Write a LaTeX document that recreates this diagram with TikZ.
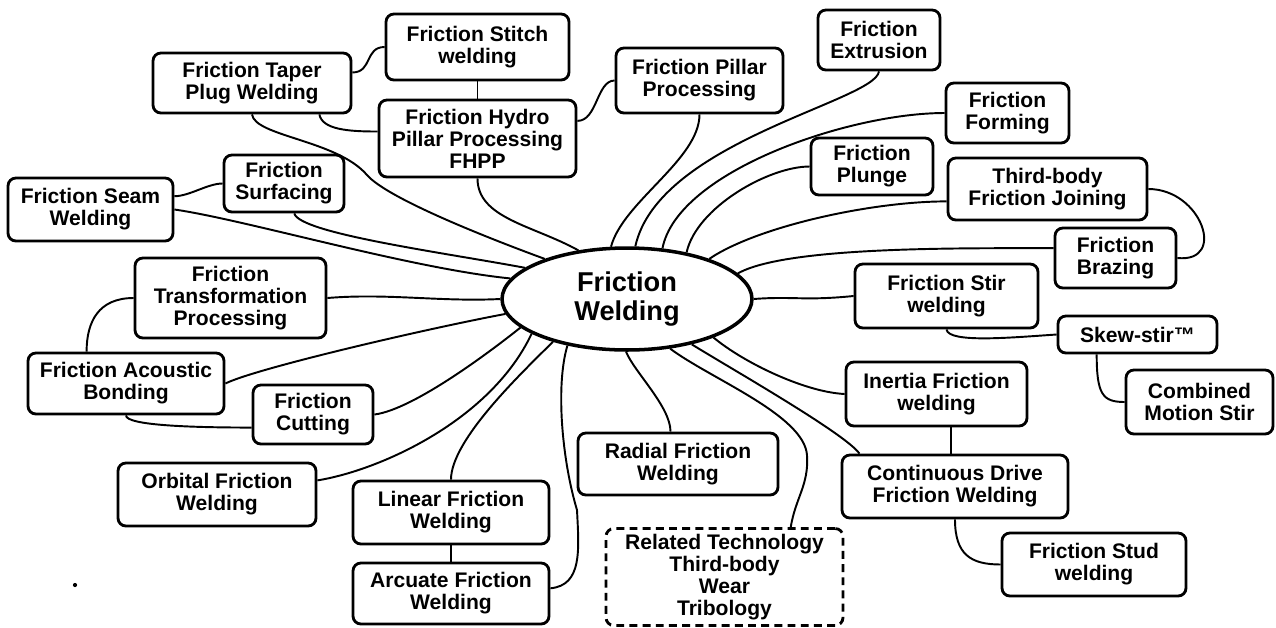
\documentclass[tikz,border=0pt]{standalone}
\usepackage{fontspec}
\setmainfont{Liberation Sans}
\usetikzlibrary{shapes.geometric}
\newcommand{\boxfont}{\fontsize{12}{12.5}\selectfont\bfseries}
\newcommand{\hubfont}{\fontsize{15.5}{17}\selectfont\bfseries}
\tikzset{
  box/.style={draw, rounded corners=4.5pt, line width=1.6pt, align=center, inner sep=1pt, font=\boxfont},
  sz/.style 2 args={minimum width=#1*0.02cm, minimum height=#2*0.02cm},
  link/.style={line width=1.1pt},
}
\begin{document}
\begin{tikzpicture}[x=0.02cm, y=-0.02cm]
		\useasboundingbox (0,0) rectangle (1276,627);
		% hub
		\node[draw, ellipse, line width=2pt, font=\hubfont, align=center, inner sep=0pt, minimum width=5.0cm, minimum height=2.04cm] (fw) at (627,299) {Friction\\Welding};

		% boxes
		\node[box, sz={198}{60}] (taper) at (252,83) {Friction Taper\\Plug Welding};
		\node[box, sz={183}{66}] (stitch) at (477.5,47) {Friction Stitch\\welding};
		\node[box, sz={197}{77}] (hydro) at (477.5,138.5) {Friction Hydro\\Pillar Processing\\FHPP};
		\node[box, sz={167}{65}] (pillar) at (699.5,80.5) {Friction Pillar\\Processing};
		\node[box, sz={122}{60}] (extrusion) at (879,40) {Friction\\Extrusion};
		\node[box, sz={123}{60}] (forming) at (1007.5,113) {Friction\\Forming};
		\node[box, sz={122}{57}] (plunge) at (872,166.5) {Friction\\Plunge};
		\node[box, sz={199}{62}] (thirdbody) at (1047.5,189) {Third-body\\Friction Joining};
		\node[box, sz={121}{60}] (brazing) at (1115.5,258) {Friction\\Brazing};
		\node[box, sz={183}{64}] (stir) at (946.5,296) {Friction Stir\\welding};
		\node[box, sz={159}{37}] (skew) at (1137.5,334.5) {Skew-stir™};
		\node[box, sz={147}{64}] (combined) at (1199.5,402) {Combined\\Motion Stir};
		\node[box, sz={181}{64}] (inertia) at (936.5,394) {Inertia Friction\\welding};
		\node[box, sz={226}{63}] (continuous) at (955,486.5) {Continuous Drive\\Friction Welding};
		\node[box, sz={184}{63}] (stud) at (1094,564.5) {Friction Stud\\welding};
		\node[box, dash pattern=on 4.5pt off 3pt, sz={237}{97}] (related) at (724.5,577) {Related Technology\\Third-body\\Wear\\Tribology};
		\node[box, sz={200}{62}] (radial) at (678,464) {Radial Friction\\Welding};
		\node[box, sz={196}{63}] (linear) at (451,512.5) {Linear Friction\\Welding};
		\node[box, sz={196}{61}] (arcuate) at (451,593.5) {Arcuate Friction\\Welding};
		\node[box, sz={198}{63}] (orbital) at (217,494.5) {Orbital Friction\\Welding};
		\node[box, sz={120}{59}] (cutting) at (313,414.5) {Friction\\Cutting};
		\node[box, sz={196}{61}] (acoustic) at (126,383.5) {Friction Acoustic\\Bonding};
		\node[box, sz={191}{80}] (transform) at (230.5,298) {Friction\\Transformation\\Processing};
		\node[box, sz={165}{63}] (seam) at (90.5,209.5) {Friction Seam\\Welding};
		\node[box, sz={120}{57}] (surfacing) at (284,183.5) {Friction\\Surfacing};

		% top left group
		\draw[link] (taper.6) .. controls +(20,0) and +(-20,0) .. (stitch.west);
		\draw[link] (stitch.south) -- (hydro.north);
		\draw[link] (taper.-25) .. controls +(3,15) and +(-30,0) .. (hydro.176);
		\draw[link] (taper.south) .. controls +(3,22) and +(-30,-35) .. (367,175) .. controls +(20,23) and +(-60,-22) .. (fw.154);
		\draw[link] (hydro.10) .. controls +(20,0) and +(-18,0) .. (pillar.west);
		\draw[link] (hydro.south) .. controls +(0,40) and +(-45,-25) .. (fw.135);
		\draw[link] (pillar.south) .. controls +(0,45) and +(12,-45) .. (fw.107);

		% top right group
		\draw[link] (extrusion.south) .. controls +(-4,30) and +(23,-105) .. (fw.81);
		\draw[link] (forming.west) .. controls +(-96,0) and +(15,-77) .. (fw.55);
		\draw[link] (plunge.west) .. controls +(-41,0) and +(10,-45) .. (fw.38);
		\draw[link] (thirdbody.187) .. controls +(-76,0) and +(47,-32) .. (fw.26);
		\draw[link] (thirdbody.east) .. controls +(53,0) and +(50,5) .. (brazing.east);
		\draw[link] (brazing.171) .. controls +(-96,0) and +(48,-27) .. (fw.13);
		\draw[link] (stir.west) .. controls +(-50,5) and +(40,-3) .. (fw.0);
		\draw[link] (stir.south) .. controls +(2,14) and +(-45,3) .. (skew.west);
		\draw[link] (skew.206) .. controls +(0,40) and +(-22,0) .. (combined.west);

		% bottom right group
		\draw[link] (inertia.west) .. controls +(-40,-2) and +(30,25) .. (fw.-24);
		\draw[link] (inertia.-67) -- (inertia.-67 |- continuous.north);
		\draw[link] (continuous.161) .. controls +(-14,-20) and +(37,23) .. (fw.-35);
		\draw[link] (continuous.south) .. controls +(0,35) and +(-30,0) .. (stud.west);
		\draw[link] (related.37) .. controls +(5,-30) and +(2,30) .. (807,455) .. controls +(-3,-40) and +(40,30) .. (fw.-49);
		\draw[link] (radial.103) .. controls +(0,-25) and +(8,20) .. (fw.-91);

		% bottom left group
		\draw[link] (arcuate.3) .. controls +(32,-3) and +(2,40) .. (577,510) .. controls +(-15,-50) and +(-12,40) .. (fw.218);
		\draw[link] (linear.north) .. controls +(0,-40) and +(-30,30) .. (fw.210);
		\draw[link] (linear.south) -- (arcuate.north);
		\draw[link] (orbital.8) .. controls +(62,-10) and +(-41,87) .. (fw.200);
		\draw[link] (cutting.east) .. controls +(40,-5) and +(-25,20) .. (fw.195);
		\draw[link] (acoustic.east) .. controls +(30,-15) and +(-80,15) .. (fw.187);
		\draw[link] (acoustic.south) .. controls +(0,10) and +(-60,0) .. (cutting.192);
		\draw[link] (transform.west) .. controls +(-35,0) and +(0,-30) .. (acoustic.141);
		\draw[link] (transform.east) .. controls +(60,-5) and +(-60,3) .. (fw.180);
		\draw[link] (seam.east) .. controls +(70,10) and +(-100,-10) .. (fw.170);
		\draw[link] (surfacing.-71) .. controls +(5,20) and +(-80,-15) .. (fw.163);
		\draw[link] (seam.9) .. controls +(15,0) and +(-15,0) .. (surfacing.west);

		\fill (75,585) circle (1.2pt);
\end{tikzpicture}
\end{document}
